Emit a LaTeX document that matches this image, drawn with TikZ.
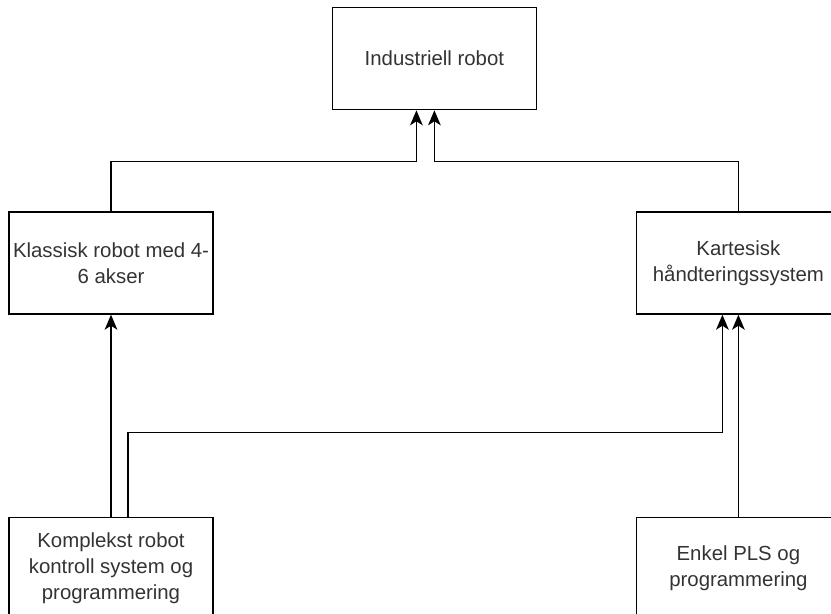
\documentclass[tikz,border=0pt]{standalone}
\usepackage{fontspec}
\setmainfont{Liberation Sans}
\usetikzlibrary{positioning,calc,arrows.meta}

\tikzset{
  box/.style={draw, line width=1.2pt, minimum width=6.12cm, minimum height=3.06cm, align=center, text=black!80, font=\fontsize{17.4}{22}\selectfont},
  arr/.style={line width=1.2pt, -{Stealth[length=0.45cm, width=0.38cm, inset=0.12cm]}},
}

\begin{document}
\begin{tikzpicture}[node distance=0cm]
    \useasboundingbox (0,0) rectangle (24.93,-18.42);
    \node [box] (klas) at (3.33,-7.89) {Klassisk robot med 4-\\6 akser};
    \node [box, above right=3.03cm and 3.54cm of klas] (ind) {Industriell robot};
    \node [box, right=12.66cm of klas] (kart) {Kartesisk\\håndteringssystem};
    \node [box, below=6.06cm of klas] (komp) {Komplekst robot\\kontroll system og\\programmering};
    \node [box, below=6.06cm of kart] (enkel) {Enkel PLS og\\programmering};

    \draw [arr] (klas.north) -- ++(0,1.5) -| ([xshift=-0.54cm]ind.south);
    \draw [arr] (kart.north) -- ++(0,1.5) -| (ind.south);
    \draw [arr] (komp.north) -- (klas.south);
    \draw [arr] ([xshift=0.51cm]komp.north) -- ++(0,2.52) -| ([xshift=-0.48cm]kart.south);
    \draw [arr] (enkel.north) -- (kart.south);
\end{tikzpicture}
\end{document}
